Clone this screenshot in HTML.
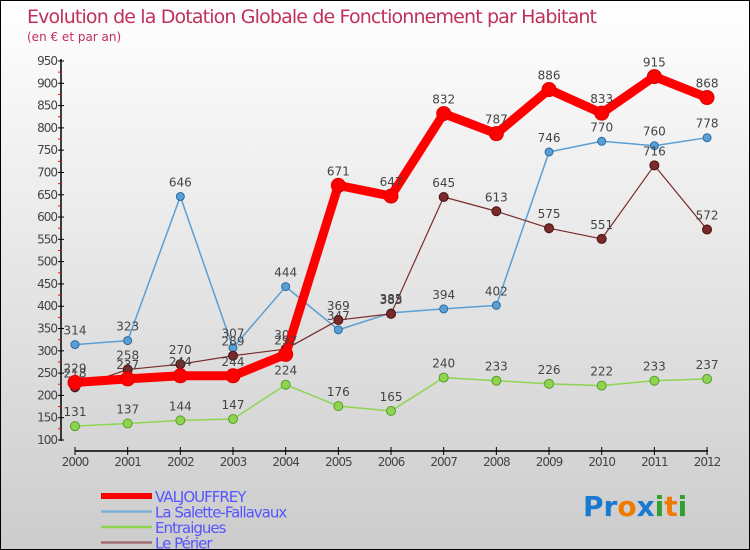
<!DOCTYPE html>
<html><head><meta charset="utf-8"><style>
body{margin:0}
#c{width:748px;height:548px;border:1px solid #000;background:linear-gradient(#fff,#ccc);position:relative;overflow:hidden;font-family:"DejaVu Sans","Liberation Sans",sans-serif}
</style></head><body>
<div id="c">
<svg id="s" width="748" height="548" xmlns="http://www.w3.org/2000/svg"></svg>
</div>
<script>
const years=["2000","2001","2002","2003","2004","2005","2006","2007","2008","2009","2010","2011","2012"];
const valjouffrey=[229,237,244,244,292,671,647,832,787,886,833,915,868];
const salette=[314,323,646,307,444,347,385,394,402,746,770,760,778];
const entraigues=[131,137,144,147,224,176,165,240,233,226,222,233,237];
const perier=[218,258,270,289,304,369,383,645,613,575,551,716,572];
const yTicks=[100,150,200,250,300,350,400,450,500,550,600,650,700,750,800,850,900,950];
const s=document.getElementById('s');
const NS='http://www.w3.org/2000/svg';
function X(i){return 74+i*52.67;}
function Y(v){return 439-(v-100)*(379/850);}
function el(t,a,p){const e=document.createElementNS(NS,t);for(const k in a)e.setAttribute(k,a[k]);(p||s).appendChild(e);return e;}
function txt(x,y,str,a,name){const e=el('text',Object.assign({x:x,y:y,'font-size':12,fill:'#444'},a));e.textContent=str;return e;}
let t=txt(26,22,"Evolution de la Dotation Globale de Fonctionnement par Habitant",{'font-size':19,fill:'#c0305a'},'chart-title');
t.setAttribute('textLength','570');
txt(26,40,"(en € et par an)",{'font-size':12,fill:'#c0305a'},'chart-subtitle');
let ax=el('line',{x1:60,y1:58,x2:60,y2:440,stroke:'#000','stroke-width':1.5});

yTicks.forEach((v,i)=>{const y=Y(v);el('line',{x1:57,y1:y,x2:63,y2:y,stroke:'#000'});
 if(i<yTicks.length-1)el('line',{x1:57,y1:Y(v+25),x2:60,y2:Y(v+25),stroke:'#f00'});
 txt(56,y+4,String(v),{'text-anchor':'end','font-size':12,'letter-spacing':'-1'},'y-tick-label');});
let xa=el('line',{x1:74,y1:450,x2:707,y2:450,stroke:'#000','stroke-width':1.5});

years.forEach((y,i)=>{el('line',{x1:X(i),y1:446,x2:X(i),y2:454,stroke:'#000'});
 txt(X(i),465,y,{'text-anchor':'middle','font-size':12,'letter-spacing':'-1'},'x-tick-label');});
function series(d,col,w,r,name,dark){
 const g=el('g',{});
 el('polyline',{points:d.map((v,i)=>X(i)+','+Y(v)).join(' '),fill:'none',stroke:col,'stroke-width':w,'stroke-linejoin':'round'},g);
 d.forEach((v,i)=>{const c=el('circle',{cx:X(i),cy:Y(v),r:r,fill:col,stroke:dark,'stroke-width':1},g);
  
  txt(X(i),Y(v)-10,String(v),{'text-anchor':'middle','font-size':12},name+'-value');});
}
series(entraigues,'#8ed54f',1.5,4.5,'entraigues','#5a9a30');
series(salette,'#5a9fd4',1.5,4,'salette','#2a6aa0');
series(perier,'#7a2a2a',1.2,4.5,'perier','#4a1010');
series(valjouffrey,'#f00',9,7,'valjouffrey','#d00');
const legend=[["VALJOUFFREY","#f00",6],["La Salette-Fallavaux","#7ab0d8",2.5],["Entraigues","#8ed54f",2.5],["Le Périer","#a07070",2.5]];
legend.forEach((l,i)=>{const y=495+i*15.5;const g=el('g',{});
 el('line',{x1:100,y1:y,x2:151,y2:y,stroke:l[1],'stroke-width':l[2]},g);
 const tt=el('text',{x:154,y:y+6,'font-size':15,fill:'#55f','letter-spacing':'-1'},g);tt.textContent=l[0];});
const lg=el('text',{x:582,y:515,'font-size':28,'font-weight':'bold'});
[["Pr","#1a7ad0"],["o","#f07a00"],["x","#1a7ad0"],["i","#30a030"],["t","#f07a00"],["i","#30a030"]].forEach(p=>{const ts=el('tspan',{fill:p[1]},lg);ts.textContent=p[0];});
</script>
</body></html>
